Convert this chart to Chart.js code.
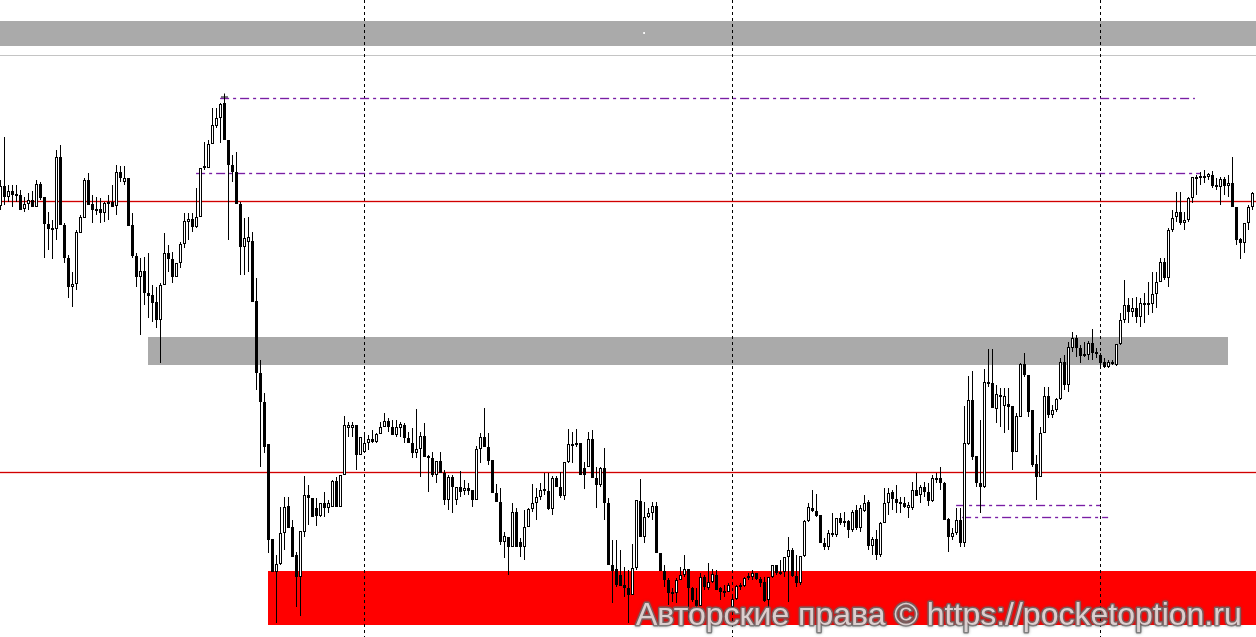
<!DOCTYPE html>
<html>
<head>
<meta charset="utf-8">
<script src="https://cdn.jsdelivr.net/npm/chart.js@4.4.1/dist/chart.umd.min.js"></script>
<style>
  html, body { margin: 0; padding: 0; background: #fff; overflow: hidden; }
  #wrap { width: 1256px; height: 637px; }
</style>
</head>
<body>
<div id="wrap"><canvas id="chart" width="1256" height="637"></canvas></div>
<script>
// OHLC, one candle per bar (price in points)
const opens = [
  494, 514, 503, 509, 506, 505, 491, 496, 500, 493,
  516, 503, 476, 472, 471, 543, 475, 442, 413, 416,
  467, 482, 520, 496, 491, 491, 487, 496, 498, 494,
  528, 518, 522, 475, 444, 423, 429, 407, 405, 398,
  380, 415, 447, 441, 423, 437, 456, 478, 481, 473,
  483, 532, 532, 556, 574, 582, 597, 560, 535, 528,
  496, 453, 458, 459, 399, 327, 298, 256, 161, 128,
  136, 167, 194, 173, 145, 123, 168, 205, 202, 192,
  184, 197, 192, 193, 219, 193, 225, 272, 272, 275,
  245, 248, 257, 261, 258, 266, 273, 279, 273, 265,
  272, 275, 262, 257, 247, 251, 264, 244, 242, 225,
  239, 227, 200, 223, 200, 213, 209, 212, 210, 200,
  251, 263, 253, 240, 207, 198, 158, 163, 153, 188,
  158, 153, 173, 191, 197, 203, 211, 209, 191, 222,
  213, 204, 238, 254, 255, 257, 232, 233, 261, 222,
  215, 232, 197, 135, 131, 125, 115, 112, 105, 132,
  199, 163, 183, 187, 194, 147, 129, 120, 106, 107,
  120, 125, 131, 112, 100, 94, 123, 112, 118, 125,
  112, 107, 108, 93, 101, 113, 114, 122, 123, 127,
  121, 118, 100, 123, 135, 126, 128, 143, 150, 124,
  117, 144, 179, 192, 189, 185, 157, 153, 165, 165,
  182, 177, 179, 170, 190, 172, 189, 198, 154, 161,
  145, 177, 197, 208, 201, 198, 197, 192, 192, 210,
  205, 213, 208, 199, 220, 222, 217, 181, 163, 167,
  180, 157, 256, 300, 244, 217, 213, 318, 317, 291,
  305, 294, 296, 294, 248, 283, 336, 325, 290, 236,
  223, 267, 304, 285, 290, 301, 338, 315, 352, 362,
  352, 344, 345, 357, 348, 345, 338, 333, 338, 335,
  356, 380, 395, 388, 392, 383, 395, 397, 396, 406,
  418, 438, 422, 470, 483, 488, 477, 480, 502, 521,
  522, 524, 523, 525, 515, 513, 521, 514, 517, 493,
  461, 457, 477, 493
];
const highs = [
  520, 563, 515, 515, 515, 510, 503, 507, 509, 520,
  518, 503, 488, 480, 550, 555, 477, 445, 428, 470,
  485, 522, 527, 505, 503, 502, 498, 505, 515, 535,
  534, 534, 522, 487, 447, 442, 443, 447, 415, 413,
  417, 467, 455, 448, 437, 458, 487, 487, 487, 512,
  532, 558, 560, 592, 592, 597, 606, 560, 545, 548,
  498, 482, 483, 468, 422, 340, 307, 256, 161, 145,
  193, 203, 203, 180, 148, 169, 224, 215, 202, 202,
  197, 208, 200, 220, 223, 225, 284, 278, 278, 275,
  263, 268, 265, 270, 267, 278, 287, 282, 280, 280,
  278, 277, 268, 272, 291, 268, 277, 245, 248, 239,
  248, 230, 225, 225, 213, 229, 220, 217, 210, 254,
  267, 292, 267, 240, 216, 212, 168, 163, 197, 192,
  162, 190, 192, 216, 212, 217, 227, 227, 224, 224,
  228, 238, 271, 268, 271, 257, 238, 268, 270, 233,
  233, 252, 202, 160, 160, 150, 133, 130, 156, 200,
  221, 198, 192, 198, 198, 147, 135, 122, 112, 122,
  133, 145, 131, 113, 112, 127, 125, 137, 131, 130,
  113, 115, 117, 103, 115, 117, 123, 127, 130, 127,
  123, 123, 123, 135, 135, 140, 143, 163, 152, 145,
  144, 180, 197, 210, 206, 185, 162, 170, 187, 182,
  187, 188, 180, 190, 195, 195, 205, 200, 163, 170,
  178, 212, 212, 210, 215, 203, 203, 198, 218, 227,
  215, 218, 217, 225, 227, 233, 218, 182, 172, 192,
  192, 294, 324, 329, 244, 280, 331, 351, 351, 315,
  312, 312, 312, 294, 287, 337, 347, 325, 290, 245,
  273, 313, 313, 295, 302, 342, 345, 358, 368, 365,
  355, 358, 359, 371, 352, 347, 342, 340, 340, 356,
  387, 420, 402, 402, 403, 402, 407, 418, 428, 428,
  442, 442, 472, 490, 508, 508, 488, 503, 523, 525,
  528, 530, 527, 529, 522, 523, 523, 525, 543, 493,
  462, 477, 495, 508
];
const lows = [
  490, 495, 498, 493, 498, 490, 488, 490, 493, 493,
  500, 442, 450, 441, 460, 475, 437, 402, 393, 410,
  467, 482, 495, 477, 485, 477, 478, 480, 493, 485,
  518, 515, 474, 442, 413, 365, 395, 382, 378, 372,
  337, 415, 428, 417, 423, 432, 452, 460, 468, 472,
  483, 530, 532, 556, 572, 557, 560, 460, 518, 496,
  425, 425, 428, 398, 310, 233, 247, 147, 128, 77,
  135, 150, 172, 143, 93, 84, 163, 175, 183, 174,
  183, 183, 187, 193, 193, 193, 225, 263, 263, 230,
  245, 248, 250, 257, 257, 266, 273, 268, 265, 263,
  263, 257, 257, 242, 242, 223, 243, 208, 223, 217,
  227, 195, 190, 187, 195, 203, 205, 205, 193, 200,
  237, 253, 235, 207, 198, 155, 142, 125, 153, 153,
  143, 140, 173, 188, 180, 200, 205, 190, 185, 213,
  202, 200, 237, 237, 253, 225, 211, 233, 222, 192,
  213, 180, 135, 97, 113, 114, 103, 77, 105, 130,
  163, 157, 182, 180, 147, 129, 113, 95, 98, 97,
  120, 123, 80, 98, 92, 94, 110, 110, 117, 110,
  100, 103, 108, 92, 100, 110, 113, 120, 120, 120,
  113, 98, 90, 122, 125, 125, 123, 98, 123, 113,
  115, 143, 178, 188, 183, 157, 150, 150, 163, 163,
  175, 173, 162, 168, 170, 168, 188, 150, 145, 140,
  143, 177, 185, 190, 187, 187, 192, 182, 190, 204,
  197, 203, 194, 198, 217, 210, 180, 148, 160, 165,
  153, 153, 255, 240, 213, 187, 212, 313, 292, 277,
  273, 267, 270, 230, 248, 283, 323, 283, 233, 200,
  223, 267, 282, 282, 288, 300, 310, 308, 348, 343,
  337, 343, 340, 340, 342, 332, 332, 332, 335, 334,
  355, 377, 377, 383, 377, 373, 377, 385, 387, 392,
  418, 420, 413, 468, 478, 475, 470, 478, 497, 505,
  515, 517, 520, 512, 510, 495, 505, 503, 493, 455,
  441, 447, 470, 490
];
const closes = [
  514, 503, 509, 505, 504, 490, 496, 500, 493, 516,
  502, 476, 471, 470, 543, 475, 442, 413, 416, 468,
  483, 520, 495, 490, 489, 487, 497, 498, 493, 528,
  522, 522, 474, 444, 423, 429, 407, 404, 397, 380,
  415, 447, 441, 423, 437, 456, 479, 481, 473, 483,
  532, 534, 556, 575, 582, 596, 560, 535, 528, 496,
  453, 462, 463, 398, 327, 298, 253, 160, 128, 136,
  167, 193, 172, 143, 123, 169, 205, 202, 183, 184,
  197, 192, 197, 219, 193, 225, 275, 275, 275, 245,
  263, 257, 261, 258, 266, 273, 279, 273, 265, 273,
  276, 262, 257, 247, 251, 264, 243, 242, 225, 239,
  227, 200, 223, 213, 213, 208, 212, 209, 200, 251,
  263, 253, 239, 207, 198, 158, 164, 153, 188, 153,
  153, 173, 191, 197, 203, 210, 209, 191, 222, 213,
  204, 238, 256, 256, 257, 225, 225, 261, 222, 215,
  232, 197, 135, 129, 115, 114, 112, 105, 132, 200,
  163, 183, 187, 194, 147, 129, 120, 107, 108, 120,
  125, 131, 112, 100, 94, 123, 113, 118, 126, 110,
  108, 109, 115, 101, 114, 115, 122, 124, 127, 121,
  117, 99, 123, 135, 127, 128, 143, 150, 124, 117,
  144, 179, 193, 189, 184, 157, 153, 167, 167, 182,
  177, 179, 170, 188, 172, 192, 197, 154, 161, 145,
  177, 197, 207, 201, 197, 196, 193, 195, 210, 204,
  213, 208, 199, 222, 222, 217, 180, 163, 167, 180,
  157, 257, 300, 243, 217, 213, 318, 316, 292, 306,
  303, 304, 293, 248, 284, 336, 325, 288, 235, 223,
  267, 304, 285, 290, 301, 338, 315, 353, 362, 352,
  344, 346, 357, 347, 346, 337, 333, 338, 336, 356,
  380, 395, 388, 392, 383, 397, 397, 395, 406, 418,
  438, 422, 470, 482, 488, 477, 480, 502, 523, 523,
  524, 522, 526, 514, 513, 521, 514, 517, 493, 460,
  457, 477, 493, 507
];

// zones: price band and bar range
const zoneHigh  = [679, 363, 129];
const zoneLow   = [654, 335, 75];
const zoneStart = [-1, 36.9, 66.9];
const zoneEnd   = [315, 306.9, 315];

// horizontal levels
const redLevels = [499, 228];
const greyLevel = 645;

// dash-dot levels with bar range
const dashLevels = [602, 527, 195, 183];
const dashStart  = [54.9, 48.9, 238.9, 240.4];
const dashEnd    = [298.6, 299.9, 274.9, 276.9];

// period separators (bar index)
const separators = [90.95, 182.95, 274.95];

const watermark = 'Авторские права © https://pocketoption.ru';

const wicks = lows.map((l, i) => ({ x: i, y: [l, highs[i]] }));
const bodies = opens.map((o, i) => ({ x: i, y: [Math.min(o, closes[i]), Math.max(o, closes[i])] }));
const bodyColors = opens.map((o, i) => closes[i] >= o ? '#ffffff' : '#000000');

const zoneColors = ['#aaaaaa', '#aaaaaa', '#ff0000'];

function hline(ctx, x1, x2, py, color, halo) {
  // soft halo first, then the 1px core
  ctx.strokeStyle = halo;
  ctx.lineWidth = 3;
  ctx.beginPath(); ctx.moveTo(x1, py); ctx.lineTo(x2, py); ctx.stroke();
  ctx.strokeStyle = color;
  ctx.lineWidth = 1;
  ctx.beginPath(); ctx.moveTo(x1, py); ctx.lineTo(x2, py); ctx.stroke();
}

const overlay = {
  id: 'overlay',
  beforeDatasetsDraw(chart) {
    const { ctx, scales: { x, y } } = chart;
    const H = chart.height, W = chart.width;
    ctx.save();

    zoneHigh.forEach((hi, k) => {
      const x1 = Math.round(x.getPixelForValue(zoneStart[k]));
      const x2 = Math.round(x.getPixelForValue(zoneEnd[k]));
      const y1 = Math.round(y.getPixelForValue(hi));
      const y2 = Math.round(y.getPixelForValue(zoneLow[k]));
      ctx.fillStyle = zoneColors[k];
      ctx.fillRect(x1, y1, x2 - x1, y2 - y1);
    });

    ctx.lineWidth = 1;
    // light grey line under the top band
    let gy = Math.round(y.getPixelForValue(greyLevel)) + 0.5;
    ctx.strokeStyle = '#c4c4c4';
    ctx.beginPath(); ctx.moveTo(0, gy); ctx.lineTo(W, gy); ctx.stroke();

    // separators
    ctx.strokeStyle = '#000';
    ctx.setLineDash([3, 3]);
    separators.forEach(s => {
      const px = Math.round(x.getPixelForValue(s)) + 0.5;
      ctx.beginPath(); ctx.moveTo(px, 0); ctx.lineTo(px, H); ctx.stroke();
    });

    // red levels
    ctx.setLineDash([]);
    redLevels.forEach(v => {
      const py = Math.round(y.getPixelForValue(v)) + 0.5;
      hline(ctx, 0, W, py, '#d00000', 'rgba(230,60,60,0.22)');
    });

    // dash-dot levels
    ctx.setLineDash([9, 4, 3, 4]);
    dashLevels.forEach((v, k) => {
      const py = Math.round(y.getPixelForValue(v)) + 0.5;
      hline(ctx, x.getPixelForValue(dashStart[k]), x.getPixelForValue(dashEnd[k]), py,
        '#7a1fa2', 'rgba(150,70,200,0.22)');
    });
    ctx.restore();
  },
  afterDraw(chart) {
    const ctx = chart.ctx;
    ctx.save();
    ctx.font = '26px "Liberation Sans", Arial, sans-serif';
    const w = ctx.measureText(watermark).width;
    const size = 26 * 605 / w;
    ctx.font = size.toFixed(1) + 'px "Liberation Sans", Arial, sans-serif';
    ctx.textBaseline = 'alphabetic';
    ctx.lineJoin = 'round';
    ctx.shadowColor = 'rgba(80,80,80,0.7)';
    ctx.shadowBlur = 3;
    ctx.strokeStyle = 'rgba(110,110,110,0.8)';
    ctx.lineWidth = 3;
    ctx.strokeText(watermark, 636, 625);
    ctx.shadowBlur = 0;
    ctx.fillStyle = 'rgba(236,226,226,0.85)';
    ctx.fillText(watermark, 636, 625);
    ctx.restore();
  }
};

new Chart(document.getElementById('chart'), {
  type: 'bar',
  data: {
    datasets: [
      {
        label: 'Bodies',
        data: bodies,
        backgroundColor: bodyColors,
        borderColor: '#000',
        borderWidth: 1,
        borderSkipped: false,
        barThickness: 3,
        grouped: false,
        inflateAmount: 0,
        order: 1
      },
      {
        label: 'Wicks',
        data: wicks,
        backgroundColor: '#000',
        borderWidth: 0,
        barThickness: 1,
        grouped: false,
        inflateAmount: 0,
        order: 2
      },
      {
        type: 'scatter',
        label: 'High mark',
        data: [{ x: 56, y: 603 }],
        pointStyle: 'cross',
        pointRadius: 3.5,
        borderColor: '#000',
        borderWidth: 1,
        order: 0
      },
      {
        type: 'scatter',
        label: 'Marker',
        data: [{ x: 160.9, y: 667 }],
        pointStyle: 'rect',
        pointRadius: 1.3,
        backgroundColor: '#fff',
        borderWidth: 0,
        order: 0
      }
    ]
  },
  options: {
    responsive: false,
    maintainAspectRatio: false,
    devicePixelRatio: 1,
    animation: false,
    events: [],
    layout: { padding: 0, autoPadding: false },
    plugins: {
      legend: { display: false },
      tooltip: { enabled: false }
    },
    scales: {
      x: { type: 'linear', min: -0.125, max: 313.875, offset: false, display: false },
      y: { type: 'linear', min: 63, max: 700, display: false }
    }
  },
  plugins: [overlay]
});
</script>
</body>
</html>
